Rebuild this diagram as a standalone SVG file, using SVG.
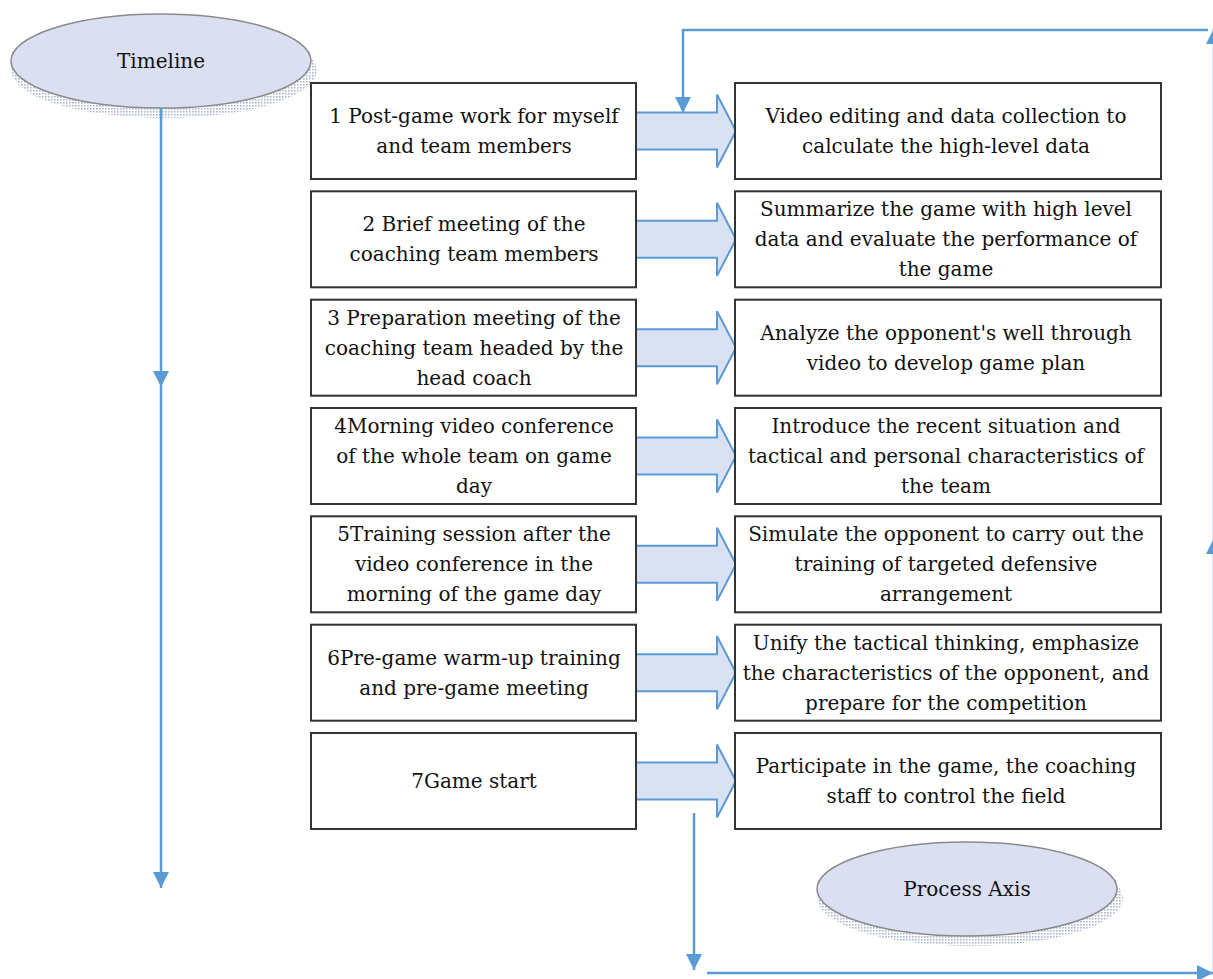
<svg xmlns="http://www.w3.org/2000/svg" width="1213" height="979" viewBox="0 0 1213 979">
  <style>
    .box { fill: #ffffff; stroke: #333333; stroke-width: 2; }
    .fat { fill: #dae1f3; stroke: #5b9bd5; stroke-width: 2; }
    .link { fill: none; stroke: #5b9bd5; stroke-width: 2.5; }
    .oval { fill: #dae0f2; stroke: #8a8a8a; stroke-width: 1.5; }
    .shadow { fill: url(#dots); }
    text { font-family: "DejaVu Serif", "Liberation Serif", serif; font-size: 20px; fill: #111111; text-anchor: middle; dominant-baseline: central; }
  </style>
  <defs>
    <marker id="head" viewBox="0 0 16 16" refX="16" refY="8" markerWidth="16" markerHeight="16" markerUnits="userSpaceOnUse" orient="auto">
      <path d="M0,0 L16,8 L0,16 z" fill="#5b9bd5"/>
    </marker>
    <pattern id="dots" width="3" height="3" patternUnits="userSpaceOnUse">
      <rect width="1.6" height="1.6" fill="#aab6cc"/>
    </pattern>
  </defs>

  <!-- Timeline oval -->
  <g id="timeline">
    <ellipse class="shadow" cx="164" cy="70" rx="153" ry="48"/>
    <ellipse class="oval" cx="161" cy="61" rx="150" ry="47"/>
    <text x="161" y="61">Timeline</text>
  </g>

  <!-- Process axis oval -->
  <g id="process-axis">
    <ellipse class="shadow" cx="970" cy="898" rx="153" ry="48"/>
    <ellipse class="oval" cx="967" cy="889" rx="150" ry="47"/>
    <text x="967" y="889">Process Axis</text>
  </g>

  <!-- connectors -->
  <g id="connectors">
    <!-- timeline axis -->
    <path class="link" d="M161,108 V387" marker-end="url(#head)"/>
    <path class="link" d="M161,387 V888" marker-end="url(#head)"/>
    <!-- process loop -->
    <path class="link" d="M694,813 V970" marker-end="url(#head)"/>
    <path class="link" d="M707,973 H1213" marker-end="url(#head)"/>
    <path class="link" d="M1214,973 V538" marker-end="url(#head)"/>
    <path class="link" d="M1214,538 V28" marker-end="url(#head)"/>
    <path class="link" d="M1208,30 H683 V113" marker-end="url(#head)"/>
    <!-- step arrows -->
    <path class="fat" d="M636,112.5 H717 V94.5 L736,131 L717,167.5 V149.5 H636"/>
    <path class="fat" d="M636,220.8 H717 V202.8 L736,239.3 L717,275.8 V257.8 H636"/>
    <path class="fat" d="M636,329.2 H717 V311.2 L736,347.7 L717,384.2 V366.2 H636"/>
    <path class="fat" d="M636,437.5 H717 V419.5 L736,456 L717,492.5 V474.5 H636"/>
    <path class="fat" d="M636,545.8 H717 V527.8 L736,564.3 L717,600.8 V582.8 H636"/>
    <path class="fat" d="M636,654.2 H717 V636.2 L736,672.7 L717,709.2 V691.2 H636"/>
    <path class="fat" d="M636,762.5 H717 V744.5 L736,781 L717,817.5 V799.5 H636"/>
  </g>

  <!-- step 1 -->
  <g id="step1">
    <rect class="box" x="311" y="83" width="325" height="96"/>
    <text x="474" y="116">1 Post-game work for myself</text>
    <text x="474" y="146">and team members</text>
  </g>
  <g id="result1">
    <rect class="box" x="735" y="83" width="426" height="96"/>
    <text x="946" y="116">Video editing and data collection to</text>
    <text x="946" y="146">calculate the high-level data</text>
  </g>

  <!-- step 2 -->
  <g id="step2">
    <rect class="box" x="311" y="191.3" width="325" height="96"/>
    <text x="474" y="224">2 Brief meeting of the</text>
    <text x="474" y="254">coaching team members</text>
  </g>
  <g id="result2">
    <rect class="box" x="735" y="191.3" width="426" height="96"/>
    <text x="946" y="209">Summarize the game with high level</text>
    <text x="946" y="239">data and evaluate the performance of</text>
    <text x="946" y="269">the game</text>
  </g>

  <!-- step 3 -->
  <g id="step3">
    <rect class="box" x="311" y="299.7" width="325" height="96"/>
    <text x="474" y="318">3 Preparation meeting of the</text>
    <text x="474" y="348">coaching team headed by the</text>
    <text x="474" y="378">head coach</text>
  </g>
  <g id="result3">
    <rect class="box" x="735" y="299.7" width="426" height="96"/>
    <text x="946" y="333">Analyze the opponent's well through</text>
    <text x="946" y="363">video to develop game plan</text>
  </g>

  <!-- step 4 -->
  <g id="step4">
    <rect class="box" x="311" y="408" width="325" height="96"/>
    <text x="474" y="426">4Morning video conference</text>
    <text x="474" y="456">of the whole team on game</text>
    <text x="474" y="486">day</text>
  </g>
  <g id="result4">
    <rect class="box" x="735" y="408" width="426" height="96"/>
    <text x="946" y="426">Introduce the recent situation and</text>
    <text x="946" y="456">tactical and personal characteristics of</text>
    <text x="946" y="486">the team</text>
  </g>

  <!-- step 5 -->
  <g id="step5">
    <rect class="box" x="311" y="516.3" width="325" height="96"/>
    <text x="474" y="534">5Training session after the</text>
    <text x="474" y="564">video conference in the</text>
    <text x="474" y="594">morning of the game day</text>
  </g>
  <g id="result5">
    <rect class="box" x="735" y="516.3" width="426" height="96"/>
    <text x="946" y="534">Simulate the opponent to carry out the</text>
    <text x="946" y="564">training of targeted defensive</text>
    <text x="946" y="594">arrangement</text>
  </g>

  <!-- step 6 -->
  <g id="step6">
    <rect class="box" x="311" y="624.7" width="325" height="96"/>
    <text x="474" y="658">6Pre-game warm-up training</text>
    <text x="474" y="688">and pre-game meeting</text>
  </g>
  <g id="result6">
    <rect class="box" x="735" y="624.7" width="426" height="96"/>
    <text x="946" y="643">Unify the tactical thinking, emphasize</text>
    <text x="946" y="673">the characteristics of the opponent, and</text>
    <text x="946" y="703">prepare for the competition</text>
  </g>

  <!-- step 7 -->
  <g id="step7">
    <rect class="box" x="311" y="733" width="325" height="96"/>
    <text x="474" y="781">7Game start</text>
  </g>
  <g id="result7">
    <rect class="box" x="735" y="733" width="426" height="96"/>
    <text x="946" y="766">Participate in the game, the coaching</text>
    <text x="946" y="796">staff to control the field</text>
  </g>
</svg>
